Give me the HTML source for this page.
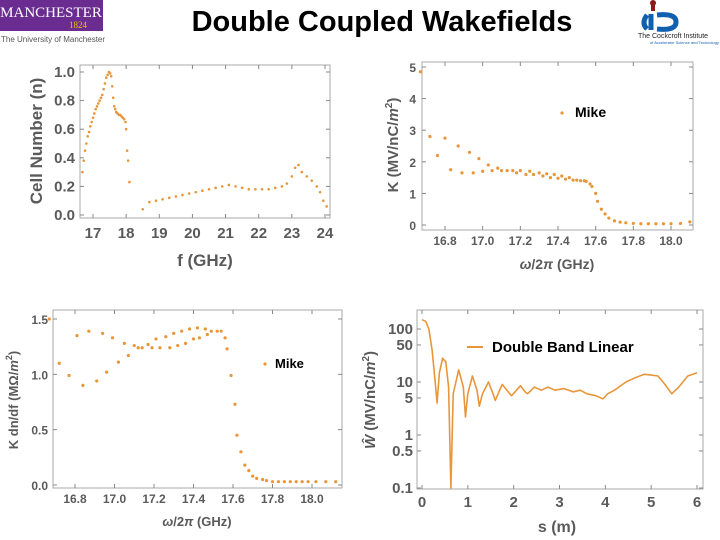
<!DOCTYPE html>
<html><head><meta charset="utf-8"><style>
html,body{margin:0;padding:0;background:#fff;}
svg{display:block;font-family:"Liberation Sans",sans-serif;}
.tk{font-size:15px;font-weight:bold;fill:#5a5a5a;}
.tk2{font-size:12px;font-weight:bold;fill:#5a5a5a;}
.lab{font-weight:bold;fill:#5a5a5a;}
</style></head><body>
<svg id="s" width="720" height="540" viewBox="0 0 720 540">
<g>
<rect x="0" y="0" width="103" height="31" fill="#6a2c91"/>
<text x="51" y="17" fill="#fff" font-family="Liberation Serif,serif" font-size="15" text-anchor="middle">MANCHESTER</text>
<text x="78" y="28" fill="#f2c200" font-family="Liberation Serif,serif" font-size="9" text-anchor="middle">1824</text>
<text x="1" y="42" fill="#555" font-size="8">The University of Manchester</text>
</g>
<text x="382" y="31" font-family="Liberation Sans Narrow,Liberation Sans,sans-serif" font-size="29" font-weight="bold" text-anchor="middle" fill="#000">Double Coupled Wakefields</text>
<g>
<rect x="651" y="1" width="4" height="10" fill="#8b1a1a"/>
<circle cx="653" cy="3" r="3" fill="#8b1a1a"/>
<path d="M647 15 Q641 23 647 29 M651 14 L651 30 M657 15 Q676 13 676 22 Q676 31 657 29" stroke="#1060b0" stroke-width="5" fill="none"/>
<text x="638" y="38" font-size="7" fill="#222">The Cockcroft Institute</text>
<text x="650" y="44" font-size="4" fill="#1060b0">of Accelerator Science and Technology</text>
</g>
<g id="c1"></g>
<g id="c2"></g>
<g id="c3"></g>
<g id="c4"></g>
</svg>
<script>
// Chart 1: cell number vs frequency
const c1F=[16.68,16.72,16.76,16.8,16.84,16.88,16.92,16.96,17.0,17.04,17.08,17.12,17.16,17.2,17.24,17.28,17.32,17.36,17.4,17.44,17.48,17.52,17.55,17.58,17.61,17.64,17.67,17.7,17.74,17.78,17.82,17.86,17.9,17.94,17.98,18.0,18.03,18.06,18.1,18.5,18.7,18.9,19.1,19.3,19.5,19.7,19.9,20.1,20.3,20.5,20.7,20.9,21.1,21.3,21.5,21.7,21.9,22.1,22.3,22.5,22.7,22.85,23.0,23.1,23.2,23.3,23.45,23.6,23.75,23.85,23.95,24.05];
const c1N=[0.3,0.38,0.45,0.5,0.55,0.58,0.62,0.65,0.68,0.71,0.74,0.76,0.78,0.8,0.82,0.84,0.88,0.92,0.96,0.98,1.0,0.99,0.97,0.9,0.82,0.76,0.74,0.72,0.71,0.7,0.7,0.69,0.68,0.67,0.65,0.6,0.45,0.38,0.23,0.04,0.09,0.1,0.11,0.12,0.13,0.14,0.15,0.16,0.17,0.18,0.19,0.2,0.21,0.2,0.19,0.18,0.18,0.18,0.18,0.19,0.2,0.22,0.27,0.33,0.35,0.3,0.27,0.24,0.2,0.16,0.1,0.06];
const c1XT=[17,18,19,20,21,22,23,24];
const c1YT=[0.0,0.2,0.4,0.6,0.8,1.0];
// Chart 2: K vs omega/2pi
const c2F=[16.67,16.72,16.76,16.8,16.83,16.87,16.89,16.93,16.95,16.98,17.0,17.03,17.05,17.08,17.1,17.13,17.16,17.18,17.2,17.23,17.25,17.27,17.3,17.32,17.34,17.36,17.38,17.4,17.42,17.44,17.46,17.48,17.5,17.52,17.54,17.55,17.57,17.58,17.6,17.61,17.63,17.65,17.67,17.7,17.73,17.76,17.8,17.84,17.88,17.92,17.96,18.0,18.05,18.1];
const c2K=[4.85,2.8,2.2,2.75,1.75,2.5,1.65,2.3,1.65,2.1,1.7,1.9,1.72,1.8,1.72,1.72,1.72,1.65,1.72,1.6,1.7,1.6,1.65,1.55,1.62,1.5,1.6,1.48,1.55,1.45,1.5,1.42,1.42,1.4,1.4,1.38,1.3,1.22,1.0,0.75,0.5,0.35,0.22,0.13,0.09,0.07,0.05,0.04,0.04,0.04,0.04,0.04,0.05,0.1];
const c2XT=[16.8,17.0,17.2,17.4,17.6,17.8,18.0];
const c2YT=[0,1,2,3,4,5];
// Chart 3: K dn/df vs omega/2pi
const c3F=[16.67,16.72,16.77,16.81,16.84,16.87,16.91,16.94,16.96,16.99,17.02,17.05,17.07,17.1,17.12,17.14,17.17,17.19,17.21,17.23,17.26,17.28,17.3,17.32,17.34,17.36,17.38,17.4,17.42,17.43,17.46,17.47,17.49,17.52,17.54,17.56,17.57,17.59,17.61,17.62,17.64,17.66,17.68,17.7,17.72,17.75,17.77,17.8,17.83,17.86,17.89,17.92,17.95,17.98,18.02,18.07,18.12];
const c3K=[1.5,1.1,0.99,1.35,0.9,1.39,0.94,1.37,1.02,1.33,1.11,1.28,1.17,1.26,1.24,1.24,1.27,1.24,1.32,1.24,1.34,1.24,1.37,1.26,1.39,1.28,1.41,1.32,1.42,1.33,1.41,1.36,1.39,1.39,1.39,1.33,1.23,0.99,0.73,0.45,0.3,0.18,0.13,0.08,0.06,0.05,0.04,0.03,0.03,0.03,0.03,0.03,0.03,0.03,0.03,0.03,0.03];
const c3XT=[16.8,17.0,17.2,17.4,17.6,17.8,18.0];
const c3YT=[0.0,0.5,1.0,1.5];
// Chart 4: wake W vs s (log)
const c4S=[0,0.08,0.15,0.22,0.28,0.33,0.38,0.45,0.52,0.58,0.63,0.68,0.8,0.9,0.95,1.0,1.1,1.2,1.25,1.32,1.45,1.55,1.6,1.66,1.75,1.88,1.95,2.03,2.15,2.25,2.3,2.37,2.45,2.6,2.75,2.9,3.1,3.3,3.45,3.6,3.8,3.95,4.05,4.2,4.45,4.65,4.85,5.0,5.15,5.3,5.45,5.6,5.8,6.0];
const c4W=[150,140,100,40,12,4,15,28,24,8,0.1,6,17,8,2.2,6,13,7,3.5,6,10,6,4.5,6,9,6.5,5.5,6.5,8.5,6.5,6,6.8,8,7,8,7,7.5,6.5,7,6,5.5,4.8,6,7,10,12,14,13.5,13,9,6,8,13,15];
const c4XT=[0,1,2,3,4,5,6];
const c4YT=[0.1,0.5,1,5,10,50,100];
const c4YL=["0.1","0.5","1","5","10","50","100"];

const NS="http://www.w3.org/2000/svg";
function mk(p,t,a){const e=document.createElementNS(NS,t);for(const k in a)e.setAttribute(k,a[k]);p.appendChild(e);return e;}
function frame(g,L,T,R,B){
  const r=mk(g,'rect',{x:L,y:T,width:R-L,height:B-T,fill:'none',stroke:'#aaa','stroke-width':1});
  
  
}
function xTicks(g,sx,ticks,B,T,cls,fmt,dy){
  ticks.forEach(v=>{const x=sx(v);
    mk(g,'line',{x1:x,x2:x,y1:B,y2:B-4,stroke:'#888'});mk(g,'line',{x1:x,x2:x,y1:T,y2:T+4,stroke:'#888'});
    const t=mk(g,'text',{x:x,y:B+dy,'text-anchor':'middle',class:cls});t.textContent=fmt(v);
    
    });
}
function yTicks(g,sy,ticks,L,R,cls,labels,dx){
  ticks.forEach((v,i)=>{const y=sy(v);
    mk(g,'line',{x1:L,x2:L+4,y1:y,y2:y,stroke:'#888'});mk(g,'line',{x1:R,x2:R-4,y1:y,y2:y,stroke:'#888'});
    const t=mk(g,'text',{x:L-dx,y:y+5,'text-anchor':'end',class:cls});t.textContent=labels[i];
    
    });
}
function label(g,x,y,txt,size,rot,name){
  const t=mk(g,'text',{x:x,y:y,'text-anchor':'middle',class:'lab','font-size':size});
  if(rot)t.setAttribute('transform','rotate(-90 '+x+' '+y+')');
  t.innerHTML=txt;
  
  
}
const OR='#e8963a';
// chart1
(function(){const g=document.getElementById('c1');const L=80,R=330,T=65,B=218;
 const sx=v=>93+(v-17)*(325-93)/7, sy=v=>215-v*(215-72);
 frame(g,L,T,R,B);
 xTicks(g,sx,c1XT,B,T,'tk',v=>v,20);
 yTicks(g,sy,c1YT,L,R,'tk',c1YT.map(v=>v.toFixed(1)),5);
 c1F.forEach((f,i)=>{const c=mk(g,'circle',{cx:sx(f),cy:sy(c1N[i]),r:1.3,fill:OR});
   
   });
 label(g,205,266,'f (GHz)',17,false,'x-axis-title');
 label(g,42,141,'Cell Number (n)',17,true,'y-axis-title');
})();
// chart2
(function(){const g=document.getElementById('c2');const L=422,R=693,T=62,B=230;
 const sx=v=>445+(v-16.8)*(671-445)/1.2, sy=v=>225-v*(225-67)/5;
 frame(g,L,T,R,B);
 xTicks(g,sx,c2XT,B,T,'tk2',v=>v.toFixed(1),15);
 yTicks(g,sy,c2YT,L,R,'tk2',c2YT.map(String),6);
 c2F.forEach((f,i)=>{const c=mk(g,'circle',{cx:sx(f),cy:sy(c2K[i]),r:1.6,fill:OR});
   
   });
 const ld=mk(g,'circle',{cx:562,cy:113,r:1.6,fill:OR});
 const lt=mk(g,'text',{x:575,y:117,'font-size':14,'font-weight':'bold',fill:'#000'});lt.textContent='Mike';
 label(g,557,269,'<tspan font-style="italic">ω</tspan>/2<tspan font-style="italic">π</tspan> (GHz)',14,false,'x-axis-title');
 label(g,398,145,'K (MV/nC/<tspan font-style="italic">m</tspan><tspan dy="-6" font-size="10">2</tspan><tspan dy="6">)</tspan>',15,true,'y-axis-title');
})();
// chart3
(function(){const g=document.getElementById('c3');const L=53,R=342,T=310,B=488;
 const sx=v=>75+(v-16.8)*(312-75)/1.2, sy=v=>485-v*(485-319)/1.5;
 frame(g,L,T,R,B);
 xTicks(g,sx,c3XT,B,T,'tk2',v=>v.toFixed(1),15);
 yTicks(g,sy,c3YT,L,R,'tk2',c3YT.map(v=>v.toFixed(1)),5);
 c3F.forEach((f,i)=>{const c=mk(g,'circle',{cx:sx(f),cy:sy(c3K[i]),r:1.6,fill:OR});
   
   });
 const ld=mk(g,'circle',{cx:265,cy:364,r:1.6,fill:OR});
 const lt=mk(g,'text',{x:275,y:368,'font-size':13,'font-weight':'bold',fill:'#000'});lt.textContent='Mike';
 label(g,197,526,'<tspan font-style="italic">ω</tspan>/2<tspan font-style="italic">π</tspan> (GHz)',13,false,'x-axis-title');
 label(g,18,400,'K dn/df (MΩ/<tspan font-style="italic">m</tspan><tspan dy="-6" font-size="9">2</tspan><tspan dy="6">)</tspan>',13,true,'y-axis-title');
})();
// chart4
(function(){const g=document.getElementById('c4');const L=417,R=703,T=310,B=489;
 const sx=v=>422+v*(697-422)/6, sy=v=>488-(Math.log10(v)+1)*(488-329)/3;
 frame(g,L,T,R,B);
 xTicks(g,sx,c4XT,B,T,'tk',v=>v,18);
 yTicks(g,sy,c4YT,L,R,'tk',c4YL,4);
 const d=c4S.map((s,i)=>(i?'L':'M')+sx(s).toFixed(1)+' '+sy(c4W[i]).toFixed(1)).join(' ');
 const p=mk(g,'path',{d:d,fill:'none',stroke:OR,'stroke-width':1.6,'stroke-linejoin':'round'});
 
 
 const ll=mk(g,'line',{x1:467,x2:483,y1:347,y2:347,stroke:OR,'stroke-width':2});
 const lt=mk(g,'text',{x:492,y:352,'font-size':15,'font-weight':'bold',fill:'#000'});lt.textContent='Double Band Linear';
 label(g,557,532,'s (m)',16,false,'x-axis-title');
 label(g,375,400,'<tspan font-style="italic">Ŵ</tspan> (MV/nC/<tspan font-style="italic">m</tspan><tspan dy="-6" font-size="10">2</tspan><tspan dy="6">)</tspan>',15,true,'y-axis-title');
})();
</script>
</body></html>
